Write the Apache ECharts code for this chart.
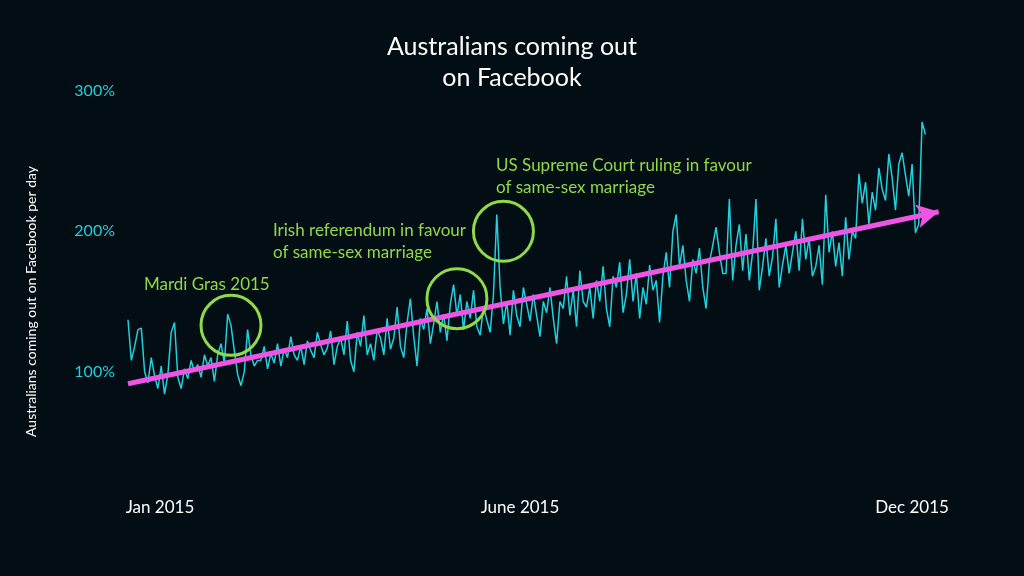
<!DOCTYPE html>
<html><head><meta charset="utf-8">
<script src="https://cdn.jsdelivr.net/npm/echarts@6/dist/echarts.min.js"></script>
<style>html,body{margin:0;background:#020d14}#c{width:1024px;height:576px}</style>
</head><body><div id="c"></div>
<script>
const title = "Australians coming out\non Facebook";
const yAxisName = "Australians coming out on Facebook per day";
const monthLabels = ["Jan 2015", "June 2015", "Dec 2015"];
const values = [
137,108,118,130,131,100,92,110,97,88,104,84,98,128,135,96,88,102,95,108,
100,105,96,112,104,110,93,112,120,106,141,133,115,98,90,100,130,112,104,108,
108,118,102,113,106,120,104,116,110,125,112,108,118,105,122,115,110,128,119,112,
117,129,105,118,124,112,136,108,100,128,118,140,112,120,108,130,124,112,138,116,
124,146,118,110,135,152,125,104,138,130,145,120,134,150,128,141,122,148,162,140,
155,130,150,138,158,132,126,146,137,128,155,212,160,134,150,126,158,140,132,160,
148,136,155,140,125,150,142,160,138,120,150,145,168,140,158,132,172,150,146,160,
138,165,150,175,145,132,168,160,178,142,155,180,150,170,138,160,148,176,158,165,
135,168,185,160,200,212,175,190,165,150,180,170,188,160,145,178,190,203,185,170,
170,223,165,190,205,172,198,165,185,223,158,175,195,168,182,209,160,176,190,170,
185,200,172,209,180,195,168,175,190,162,226,185,200,175,192,168,210,180,200,195,
241,220,235,205,228,215,245,230,222,255,238,215,248,256,240,225,248,199,205,278,269
];
const trendStart = [0, 91.4];
const trendEnd = [244, 214];
const events = [
  {name: "Mardi Gras 2015", at: [31, 133]},
  {name: "Irish referendum in favour\nof same-sex marriage", at: [99, 152]},
  {name: "US Supreme Court ruling in favour\nof same-sex marriage", at: [113, 200]}
];
const green = "#8fd94a", cyan = "#22cfdc", pink = "#ee55e4";
const chart = echarts.init(document.getElementById('c'));
chart.setOption({
  backgroundColor: "#020d14",
  animation: false,
  textStyle: {fontFamily: "Lato"},
  title: {text: title, left: "center", top: 26, textStyle: {color: "#fff", fontSize: 25, fontWeight: "normal", lineHeight: 31, fontFamily: "Lato"}},
  grid: {left: 128, right: 82, top: 91, bottom: 64},
  xAxis: {type: "value", min: 0, max: 245, show: false},
  yAxis: {type: "value", min: 0, max: 300, interval: 100,
    splitLine: {show: false}, axisLine: {show: false}, axisTick: {show: false},
    axisLabel: {color: cyan, fontSize: 16, margin: 13, formatter: v => v === 0 ? "" : v + "%"},
    name: yAxisName, nameLocation: "middle", nameGap: 90, nameRotate: 90,
    nameTextStyle: {color: "#fff", fontSize: 14}},
  series: [{
    type: "line", data: values.map((v, i) => [i, v]), symbol: "none",
    lineStyle: {color: cyan, width: 1.5}, z: 2,
    markLine: {silent: true, symbol: ["none", "arrow"], symbolSize: [18, 22], z: 5,
      lineStyle: {color: pink, width: 5, type: "solid"}, label: {show: false},
      data: [[{coord: trendStart}, {coord: trendEnd}]]},
    markPoint: {silent: true, symbol: "circle", symbolSize: 60, z: 6,
      itemStyle: {color: "rgba(0,0,0,0)", borderColor: green, borderWidth: 3},
      label: {show: false},
      data: events.map(e => ({coord: e.at}))}
  }],
  graphic: [
    {type: "text", left: 144, top: 276, style: {text: events[0].name, fill: green, font: "17px Lato"}},
    {type: "text", right: 1024 - 466, top: 220, style: {text: events[1].name, fill: green, font: "17px Lato", align: "right", lineHeight: 22}},
    {type: "text", left: 496, top: 155, style: {text: events[2].name, fill: green, font: "17px Lato", lineHeight: 22}},
    {type: "text", x: 160, y: 508, style: {text: monthLabels[0], fill: "#fff", font: "17px Lato", align: "center", verticalAlign: "middle"}},
    {type: "text", x: 520, y: 508, style: {text: monthLabels[1], fill: "#fff", font: "17px Lato", align: "center", verticalAlign: "middle"}},
    {type: "text", x: 912, y: 508, style: {text: monthLabels[2], fill: "#fff", font: "17px Lato", align: "center", verticalAlign: "middle"}}
  ]
});
</script></body></html>
